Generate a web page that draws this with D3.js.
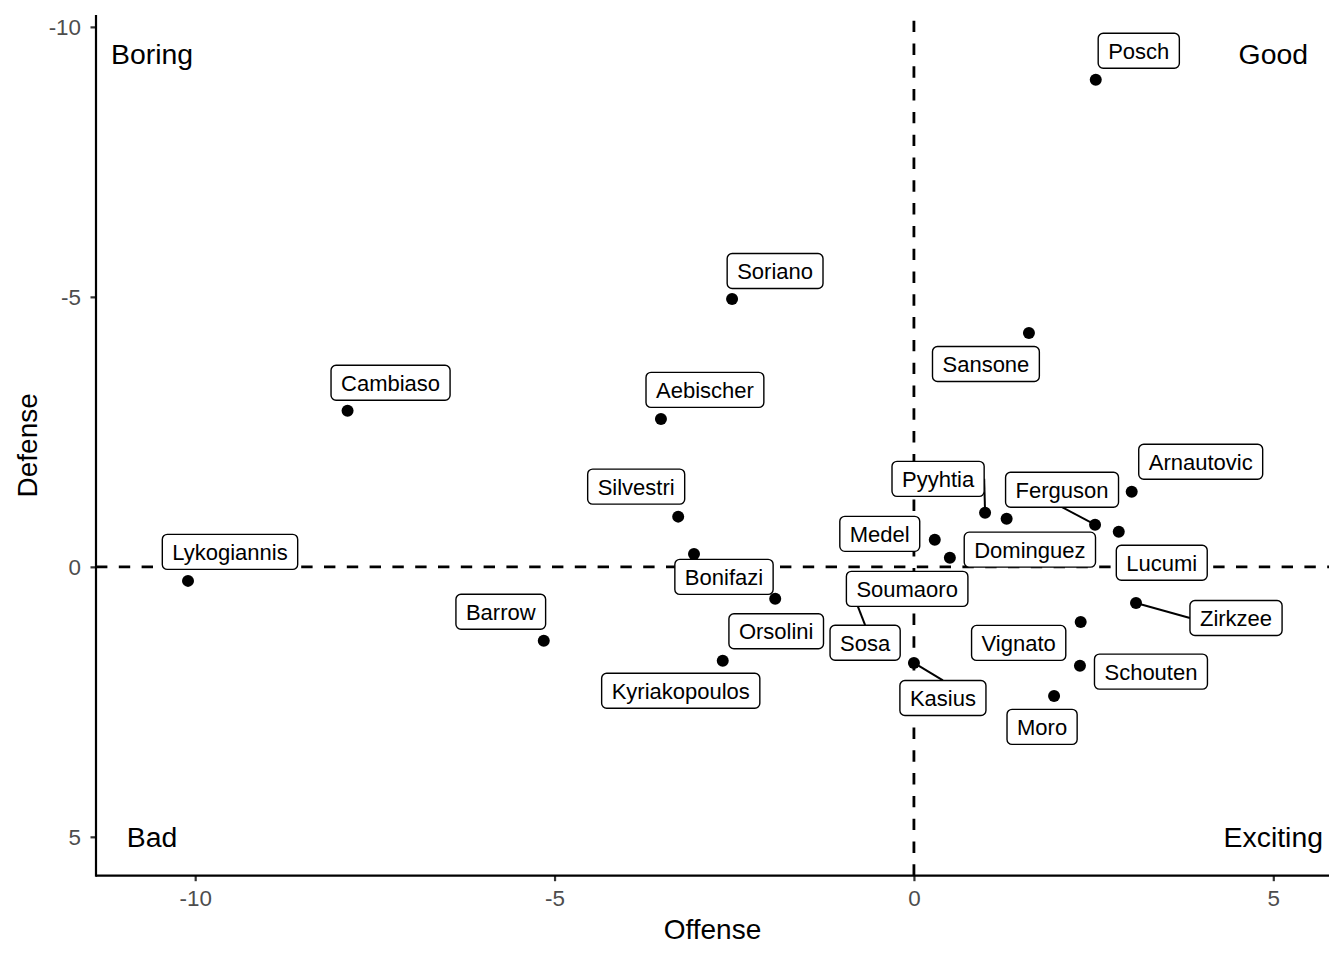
<!DOCTYPE html>
<html>
<head>
<meta charset="utf-8">
<script src="https://cdn.jsdelivr.net/npm/d3@7"></script>
<style>
  html, body { margin: 0; padding: 0; background: #fff; }
  svg { display: block; font-family: "Liberation Sans", Arial, Helvetica, sans-serif; }
</style>
</head>
<body>
<svg id="chart" width="1344" height="960"></svg>
<script>
// ---- data ----
const players = ["Posch","Soriano","Sansone","Cambiaso","Aebischer","Silvestri","Bonifazi","Lykogiannis","Barrow","Orsolini","Kyriakopoulos","Kasius","Medel","Dominguez","Pyyhtia","","Ferguson","Arnautovic","Lucumi","Zirkzee","Vignato","Schouten","Moro","Sosa","Soumaoro"];
const offense = [2.53,-2.53,1.60,-7.88,-3.52,-3.28,-3.06,-10.10,-5.15,-1.93,-2.66,0.00,0.29,0.50,0.99,1.29,2.52,3.03,2.85,3.09,2.32,2.31,1.95,-0.86,-0.15];
const defense = [-9.02,-4.96,-4.33,-2.89,-2.74,-0.93,-0.24,0.26,1.37,0.59,1.74,1.78,-0.50,-0.17,-1.00,-0.89,-0.78,-1.39,-0.65,0.67,1.02,1.83,2.39,0.46,0.39];
const xTicks = [-10, -5, 0, 5];
const yTicks = [-10, -5, 0, 5];
const quadrants = ["Boring", "Good", "Bad", "Exciting"];
const quadX = [-10.6, 5.0, -10.6, 5.0];
const quadY = [-9.5, -9.5, 5.0, 5.0];

// ---- layout (repelled label nudges, px) ----
const labelDx = [43,43,-43,43,44,-42,30,42,-43,1,-42,29,-55,80,-47,null,-33,69,43,100,-62,71,-12,13,4];
const labelDy = [-29,-28,31,-28,-29,-30,23,-29,-29,32.5,30,35,-6,-8,-34,null,-35,-30,31,15,21,6,31,51,1];

const svg = d3.select("#chart");
const pL = 96, pR = 1329, pT = 15, pB = 875.7;
const x = d3.scaleLinear().domain([-11.38, 5.775]).range([pL, pR]);
const y = d3.scaleLinear().domain([-10.22, 5.72]).range([pT, pB]);

// reference lines
svg.append("line").attr("x1", pL).attr("x2", pR).attr("y1", y(0)).attr("y2", y(0))
  .attr("stroke", "#000").attr("stroke-width", 2.8).attr("stroke-dasharray", "11.4,11.4");
svg.append("line").attr("x1", x(0)).attr("x2", x(0)).attr("y1", pB).attr("y2", pT)
  .attr("stroke", "#000").attr("stroke-width", 2.8).attr("stroke-dasharray", "11.4,11.4");

// axes
const fmt = d => String(d);
const xAxis = d3.axisBottom(x).tickValues(xTicks).tickSize(5.5).tickFormat(fmt);
const gx = svg.append("g").attr("transform", `translate(0,${pB})`).call(xAxis);
gx.attr("font-family", null).attr("font-size", null);
gx.select(".domain").remove();
gx.selectAll(".tick line").attr("stroke", "#333").attr("stroke-width", 2.2);
gx.selectAll(".tick text").attr("fill", "#4d4d4d").attr("font-size", 22.4)
  .attr("dy", null).attr("y", 30.5);

const yAxis = d3.axisLeft(y).tickValues(yTicks).tickSize(5.5).tickFormat(fmt);
const gy = svg.append("g").attr("transform", `translate(${pL},0)`).call(yAxis);
gy.attr("font-family", null).attr("font-size", null);
gy.select(".domain").remove();
gy.selectAll(".tick line").attr("stroke", "#333").attr("stroke-width", 2.2);
gy.selectAll(".tick text").attr("fill", "#4d4d4d").attr("font-size", 22.4)
  .attr("dy", null).attr("y", 8).attr("x", -15);

svg.append("line").attr("x1", pL).attr("x2", pR).attr("y1", pB).attr("y2", pB)
  .attr("stroke", "#000").attr("stroke-width", 2.2);
svg.append("line").attr("x1", pL).attr("x2", pL).attr("y1", pT).attr("y2", pB + 1.1)
  .attr("stroke", "#000").attr("stroke-width", 2.2);

// axis titles
svg.append("text").attr("x", (pL + pR) / 2).attr("y", 939).attr("text-anchor", "middle")
  .attr("font-size", 28).attr("fill", "#000").text("Offense");
svg.append("text").attr("transform", `translate(37,${(pT + pB) / 2}) rotate(-90)`)
  .attr("text-anchor", "middle").attr("font-size", 28).attr("fill", "#000").text("Defense");

// quadrant annotations
svg.append("g").selectAll("text").data(quadrants).join("text")
  .attr("x", (d, i) => x(quadX[i])).attr("y", (d, i) => y(quadY[i]) + 10.2)
  .attr("text-anchor", "middle").attr("font-size", 28.4).attr("fill", "#000").text(d => d);

// points
const idx = d3.range(players.length);
svg.append("g").selectAll("circle").data(idx).join("circle")
  .attr("cx", i => x(offense[i])).attr("cy", i => y(defense[i])).attr("r", 6).attr("fill", "#000");

// labels
const labeled = idx.filter(i => players[i] !== "" && labelDx[i] !== null);
const meas = svg.append("text").attr("font-size", 22).attr("visibility", "hidden");
const boxes = labeled.map(i => {
  meas.text(players[i]);
  const w = meas.node().getComputedTextLength() + 20;
  const h = 35;
  const px = x(offense[i]), py = y(defense[i]);
  const cx = px + labelDx[i], cy = py + labelDy[i];
  return {i, w, h, px, py, cx, cy};
});
meas.remove();

// segments: drawn when the box is farther than the minimum segment length,
// attached to the nearest edge midpoint of the label box
const segG = svg.append("g");
boxes.forEach(b => {
  const hw = b.w / 2, hh = b.h / 2;
  const nx = Math.max(b.cx - hw, Math.min(b.px, b.cx + hw));
  const ny = Math.max(b.cy - hh, Math.min(b.py, b.cy + hh));
  const dist = Math.hypot(b.px - nx, b.py - ny);
  if (dist > 16) {
    const cands = [[b.cx, b.cy - hh], [b.cx, b.cy + hh], [b.cx - hw, b.cy], [b.cx + hw, b.cy]];
    const best = cands.reduce((a, c) =>
      Math.hypot(c[0] - b.px, c[1] - b.py) < Math.hypot(a[0] - b.px, a[1] - b.py) ? c : a);
    segG.append("line").attr("x1", b.px).attr("y1", b.py)
      .attr("x2", best[0]).attr("y2", best[1])
      .attr("stroke", "#000").attr("stroke-width", 2);
  }
});

const labG = svg.append("g");
boxes.forEach(b => {
  labG.append("rect").attr("x", b.cx - b.w / 2).attr("y", b.cy - b.h / 2)
    .attr("width", b.w).attr("height", b.h).attr("rx", 5).attr("ry", 5)
    .attr("fill", "#fff").attr("stroke", "#000").attr("stroke-width", 1.4);
  labG.append("text").attr("x", b.cx).attr("y", b.cy + 8.3).attr("text-anchor", "middle")
    .attr("font-size", 22).attr("fill", "#000").text(players[b.i]);
});
</script>
</body>
</html>
